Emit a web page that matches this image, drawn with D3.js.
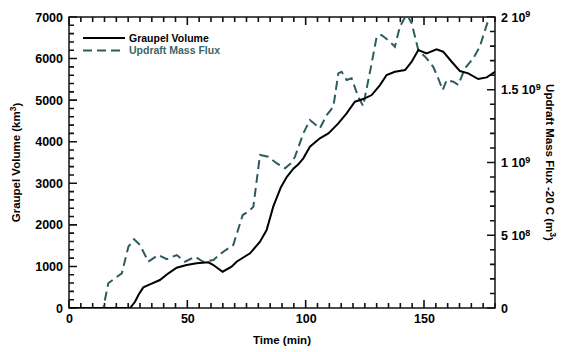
<!DOCTYPE html>
<html>
<head>
<meta charset="utf-8">
<script src="https://cdn.jsdelivr.net/npm/d3@7"></script>
<style>
  body { margin: 0; background: #fff; }
  svg { font-family: "Liberation Sans", Arial, sans-serif; font-weight: bold; }
</style>
</head>
<body>
<div id="chart"></div>
<script>
// graupel volume (km^3) vs time (min)
const graupelTime = [0, 10, 20, 25.8, 27.9, 29.5, 31.4, 34.2, 38.4, 42, 45.5, 49.7, 53.9, 58.9, 61, 64.9, 68.7, 70.8, 76.5, 80.7, 83.5, 86.3, 89.5, 92, 94.8, 96.9, 99, 101.8, 106, 109.6, 113.8, 117.3, 120.8, 124.3, 127.9, 131.4, 134.2, 137.7, 142, 144.8, 147.6, 151.1, 155.3, 158.1, 161.7, 165.2, 168.7, 172.9, 176.5, 180];
const graupelVolume = [0, 0, 0, 0, 150, 330, 497, 570, 673, 834, 970, 1034, 1074, 1099, 1034, 873, 994, 1114, 1315, 1595, 1876, 2437, 2900, 3150, 3350, 3456, 3600, 3880, 4081, 4201, 4442, 4682, 4962, 5026, 5123, 5363, 5604, 5683, 5724, 5924, 6205, 6125, 6221, 6165, 5924, 5700, 5644, 5507, 5548, 5680];

// updraft mass flux at -20 C, in units of 1e9 m^3
const fluxTime = [0, 14.5, 16.6, 19.4, 22.3, 25.1, 27.5, 30, 33.5, 37.7, 41.3, 45.5, 49, 53.2, 56.7, 61, 65.2, 69.4, 73.4, 75.8, 77.9, 80.7, 84.2, 87.7, 91.3, 94.1, 95.5, 99, 101.8, 106, 108.9, 111.7, 113.8, 115.2, 117.3, 119.4, 122.2, 124.3, 127.9, 130, 132.1, 135.6, 137.7, 139.8, 142.7, 144.8, 147.6, 151.1, 153.9, 156, 157.9, 159.6, 162.4, 164.5, 167.3, 170.8, 173.6, 175.8, 178, 180];
const fluxValue = [0, 0, 0.17, 0.204, 0.238, 0.421, 0.472, 0.433, 0.318, 0.364, 0.335, 0.364, 0.318, 0.353, 0.318, 0.33, 0.387, 0.433, 0.639, 0.662, 0.696, 1.052, 1.04, 0.995, 0.96, 1.0, 1.04, 1.2, 1.292, 1.235, 1.326, 1.383, 1.613, 1.624, 1.567, 1.579, 1.452, 1.388, 1.682, 1.865, 1.876, 1.83, 1.796, 1.933, 2.02, 1.956, 1.773, 1.716, 1.658, 1.579, 1.498, 1.567, 1.555, 1.533, 1.647, 1.716, 1.796, 1.911, 2.02, 2.1];

const xTicks = [0, 50, 100, 150];
const leftTicks = [0, 1000, 2000, 3000, 4000, 5000, 6000, 7000];
const rightTicks = [0, 0.5, 1, 1.5, 2];
const rightTickLabels = [["0", ""], ["5 10", "8"], ["1 10", "9"], ["1.5 10", "9"], ["2 10", "9"]];
const seriesNames = ["Graupel Volume", "Updraft Mass Flux"];

const W = 562, H = 352;
const margin = {t: 17, r: 67, b: 44, l: 69};
const w = W - margin.l - margin.r;
const h = H - margin.t - margin.b;
const teal = '#2e5b5f';

const svg = d3.select('#chart').append('svg')
	.attr('width', W)
	.attr('height', H);

const plot = svg.append('g')
	.attr('transform', `translate(${margin.l},${margin.t})`);

const scaleX = d3.scaleLinear().domain([0, 180]).range([0, w]);
const scaleY = d3.scaleLinear().domain([0, 7000]).range([h, 0]);
const scaleY2 = d3.scaleLinear().domain([0, 2]).range([h, 0]);

plot.append('clipPath').attr('id', 'clip')
	.append('rect').attr('width', w).attr('height', h);

////////////////////////////////////////////////////////////////////
// inward tick marks on all four sides, drawn as one path

const xMinor = d3.range(0, 181, 5);
const yMinor = d3.range(0, 7001, 200);
const y2Minor = d3.range(0, 21, 1).map(d => d / 10);

const tp = d3.path();
xMinor.forEach(d => {
	const len = d % 50 === 0 ? 8 : 5;
	const x = scaleX(d);
	tp.moveTo(x, h); tp.lineTo(x, h - len);
	tp.moveTo(x, 0); tp.lineTo(x, len);
});
yMinor.forEach(d => {
	const len = d % 1000 === 0 ? 8 : 5;
	const y = scaleY(d);
	tp.moveTo(0, y); tp.lineTo(len, y);
});
y2Minor.forEach((d, i) => {
	const len = i % 5 === 0 ? 8 : 5;
	const y = scaleY2(d);
	tp.moveTo(w, y); tp.lineTo(w - len, y);
});

// frame
plot.append('rect')
	.attr('width', w).attr('height', h)
	.attr('fill', 'none')
	.attr('stroke', '#000')
	.attr('stroke-width', 1.4);

plot.append('path')
	.attr('class', 'ticks')
	.attr('d', tp.toString())
	.attr('fill', 'none')
	.attr('stroke', '#111')
	.attr('stroke-width', 1.6);

// tick labels from d3 axes
const axisX = d3.axisBottom(scaleX).tickValues(xTicks).tickSize(0).tickPadding(6).tickFormat(d3.format('d'));
plot.append('g').attr('class', 'axis axis-x')
	.attr('transform', `translate(0,${h})`)
	.call(axisX);

const axisY = d3.axisLeft(scaleY).tickValues(leftTicks).tickSize(0).tickPadding(6).tickFormat(d3.format('d'));
plot.append('g').attr('class', 'axis axis-y')
	.call(axisY);

const axisY2 = d3.axisRight(scaleY2).tickValues(rightTicks).tickSize(0).tickPadding(6).tickFormat(() => '');
const axisY2Node = plot.append('g').attr('class', 'axis axis-y2')
	.attr('transform', `translate(${w},0)`)
	.call(axisY2);

axisY2Node.selectAll('.tick text').each(function(d, i) {
	const t = d3.select(this);
	const lab = rightTickLabels[i];
	t.append('tspan').text(lab[0]);
	if (lab[1]) t.append('tspan').attr('dy', '-0.45em').attr('font-size', '9px').text(lab[1]);
});

plot.selectAll('.axis .domain').remove();
plot.selectAll('.axis text')
	.attr('font-size', '12.5px')
	.attr('font-weight', 'bold')
	.attr('font-family', '"Liberation Sans", Arial, sans-serif')
	.attr('fill', '#000');

////////////////////////////////////////////////////////////////////
// lines

const lineG = d3.line()
	.x((d, i) => scaleX(graupelTime[i]))
	.y(d => scaleY(d));

const lineF = d3.line()
	.x((d, i) => scaleX(fluxTime[i]))
	.y(d => scaleY2(d));

const lines = plot.append('g').attr('clip-path', 'url(#clip)');

lines.append('path')
	.datum(fluxValue)
	.attr('d', lineF)
	.attr('fill', 'none')
	.attr('stroke', teal)
	.attr('stroke-width', 2)
	.attr('stroke-dasharray', '9,5');

lines.append('path')
	.datum(graupelVolume)
	.attr('d', lineG)
	.attr('fill', 'none')
	.attr('stroke', '#000')
	.attr('stroke-width', 2);

////////////////////////////////////////////////////////////////////
// legend

const legend = plot.append('g').attr('transform', 'translate(14,21)');
const legendStyles = [{c: '#000', dash: null, tc: '#000'}, {c: teal, dash: '9,5', tc: '#3a6669'}];
legend.selectAll('g')
	.data(seriesNames)
	.enter().append('g')
	.attr('transform', (d, i) => `translate(0,${i * 12.5})`)
	.each(function(d, i) {
		const g = d3.select(this);
		g.append('line')
			.attr('x1', 0).attr('x2', 42)
			.attr('stroke', legendStyles[i].c)
			.attr('stroke-width', 2)
			.attr('stroke-dasharray', legendStyles[i].dash);
		g.append('text')
			.attr('x', 46).attr('dy', '0.35em')
			.attr('font-size', '10.5px')
			.attr('fill', legendStyles[i].tc)
			.text(d);
	});

////////////////////////////////////////////////////////////////////
// axis titles

svg.append('text')
	.attr('x', margin.l + w / 2)
	.attr('y', 344)
	.attr('text-anchor', 'middle')
	.attr('font-size', '11.5px')
	.text('Time (min)');

const yTitle = svg.append('text')
	.attr('transform', `translate(20,${margin.t + h / 2}) rotate(-90)`)
	.attr('text-anchor', 'middle')
	.attr('font-size', '11.5px');
yTitle.append('tspan').text('Graupel Volume (km');
yTitle.append('tspan').attr('dy', '-0.45em').attr('font-size', '8.5px').text('3');
yTitle.append('tspan').attr('dy', '0.45em').text(')');

const y2Title = svg.append('text')
	.attr('transform', `translate(546,${margin.t + h / 2}) rotate(90)`)
	.attr('text-anchor', 'middle')
	.attr('font-size', '11.5px');
y2Title.append('tspan').text('Updraft Mass Flux -20 C (m');
y2Title.append('tspan').attr('dy', '-0.45em').attr('font-size', '8.5px').text('3');
y2Title.append('tspan').attr('dy', '0.45em').text(')');
</script>
</body>
</html>
